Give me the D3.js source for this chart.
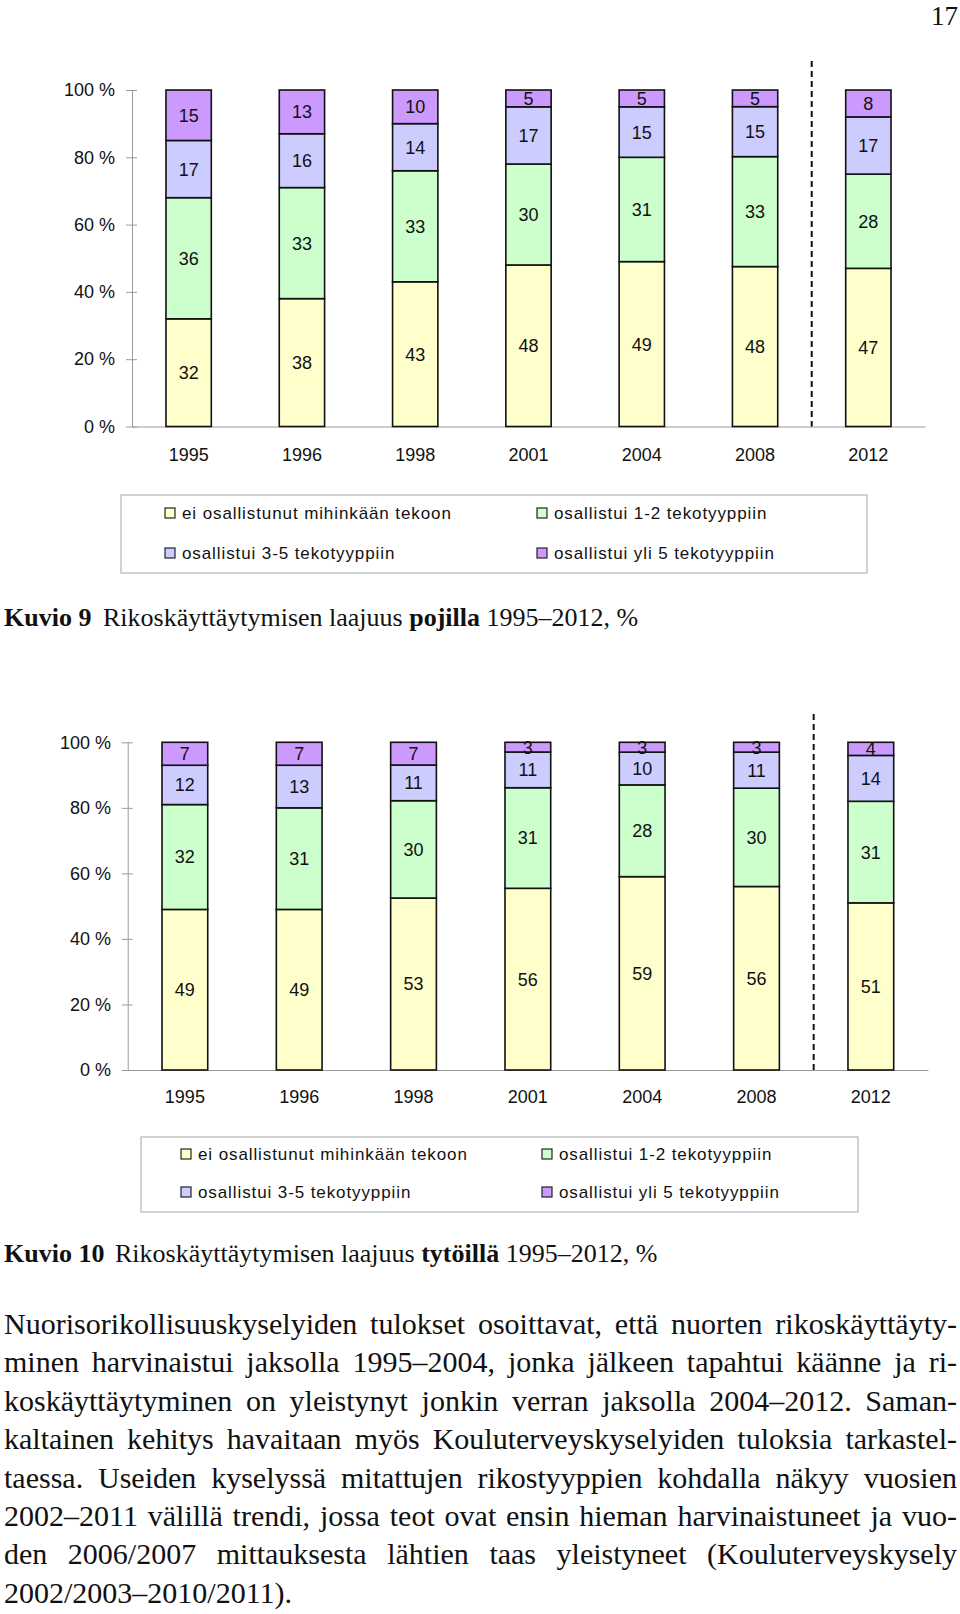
<!DOCTYPE html>
<html>
<head>
<meta charset="utf-8">
<script src="https://cdn.jsdelivr.net/npm/d3@7"></script>
<style>
  body { margin: 0; background: #fff; }
  svg { display: block; }
</style>
</head>
<body>
<div id="page"></div>
<script>
// ---- data ----
const years = ["1995", "1996", "1998", "2001", "2004", "2008", "2012"];
const seriesNames = [
    "ei osallistunut mihinkään tekoon",
    "osallistui 1-2 tekotyyppiin",
    "osallistui 3-5 tekotyyppiin",
    "osallistui yli 5 tekotyyppiin"
];
const seriesColors = ["#ffffcc", "#ccffcc", "#ccccff", "#cc99ff"];

// Kuvio 9, pojat
const boysNone = [32, 38, 43, 48, 49, 48, 47];
const boys1to2 = [36, 33, 33, 30, 31, 33, 28];
const boys3to5 = [17, 16, 14, 17, 15, 15, 17];
const boysOver5 = [15, 13, 10, 5, 5, 5, 8];

// Kuvio 10, tytöt
const girlsNone = [49, 49, 53, 56, 59, 56, 51];
const girls1to2 = [32, 31, 30, 31, 28, 30, 31];
const girls3to5 = [12, 13, 11, 11, 10, 11, 14];
const girlsOver5 = [7, 7, 7, 3, 3, 3, 4];

const bodyLines = [
    "Nuorisorikollisuuskyselyiden tulokset osoittavat, että nuorten rikoskäyttäyty-",
    "minen harvinaistui jaksolla 1995–2004, jonka jälkeen tapahtui käänne ja ri-",
    "koskäyttäytyminen on yleistynyt jonkin verran jaksolla 2004–2012. Saman-",
    "kaltainen kehitys havaitaan myös Kouluterveyskyselyiden tuloksia tarkastel-",
    "taessa. Useiden kyselyssä mitattujen rikostyyppien kohdalla näkyy vuosien",
    "2002–2011 välillä trendi, jossa teot ovat ensin hieman harvinaistuneet ja vuo-",
    "den 2006/2007 mittauksesta lähtien taas yleistyneet (Kouluterveyskysely",
    "2002/2003–2010/2011)."
];

const width = 960, height = 1614;
const sans = "'Liberation Sans', Arial, sans-serif";
const serif = "'Liberation Serif', 'Times New Roman', serif";

const svg = d3.select("#page")
    .append("svg")
    .attr("width", width)
    .attr("height", height);

svg.append("rect").attr("width", width).attr("height", height).attr("fill", "#fff");

// page number
svg.append("text")
    .attr("x", 958).attr("y", 25)
    .attr("text-anchor", "end")
    .attr("font-family", serif)
    .attr("font-size", 27)
    .attr("fill", "#111")
    .text("17");

function drawChart(cfg, series) {
    const rows = years.map((year, i) => {
        const row = { year };
        seriesNames.forEach((name, k) => row[name] = series[k][i]);
        return row;
    });

    const layers = d3.stack()
        .keys(seriesNames)
        .offset(d3.stackOffsetExpand)(rows);

    const x = d3.scaleBand()
        .domain(years)
        .range([cfg.left, cfg.right])
        .paddingInner(0.6)
        .paddingOuter(0.3);

    const y = d3.scaleLinear()
        .domain([0, 1])
        .range([cfg.bottom, cfg.top]);

    const color = d3.scaleOrdinal().domain(seriesNames).range(seriesColors);

    const g = svg.append("g");

    // y axis
    const yAxis = g.append("g")
        .attr("transform", `translate(${cfg.left},0)`)
        .call(d3.axisLeft(y)
            .tickValues([0, 0.2, 0.4, 0.6, 0.8, 1])
            .tickFormat(d => Math.round(d * 100) + " %")
            .tickSizeInner(6)
            .tickSizeOuter(0)
            .tickPadding(cfg.tickPadding));
    yAxis.select(".domain").attr("stroke", "#9a9a9a");
    yAxis.selectAll(".tick line").attr("x1", 5).attr("x2", -6).attr("stroke", "#9a9a9a");
    yAxis.selectAll(".tick text")
        .attr("font-family", sans)
        .attr("font-size", 18)
        .attr("fill", "#111");

    // x axis (baseline + year labels)
    const xAxis = g.append("g")
        .attr("transform", `translate(0,${y(0)})`)
        .call(d3.axisBottom(x).tickSize(0).tickSizeOuter(0).tickPadding(cfg.yearPadding));
    xAxis.select(".domain").attr("stroke", "#9a9a9a");
    xAxis.selectAll(".tick text")
        .attr("font-family", sans)
        .attr("font-size", 18)
        .attr("fill", "#111");

    // bars
    const layer = g.selectAll(".layer")
        .data(layers)
        .join("g")
        .attr("class", "layer")
        .attr("fill", d => color(d.key));

    layer.selectAll("rect")
        .data(d => d)
        .join("rect")
        .attr("x", d => x(d.data.year))
        .attr("y", d => y(d[1]))
        .attr("width", x.bandwidth())
        .attr("height", d => y(d[0]) - y(d[1]))
        .attr("stroke", "#111")
        .attr("stroke-width", 1.6);

    // value labels
    layer.selectAll("text")
        .data((d, k) => d.map((p, i) => ({ p, v: series[k][i] })))
        .join("text")
        .attr("x", d => x(d.p.data.year) + x.bandwidth() / 2)
        .attr("y", d => (y(d.p[0]) + y(d.p[1])) / 2)
        .attr("dy", "0.36em")
        .attr("text-anchor", "middle")
        .attr("font-family", sans)
        .attr("font-size", 18)
        .attr("fill", "#111")
        .text(d => d.v);

    // dashed separator before the last survey
    const sepX = (x("2008") + x.bandwidth() + x("2012")) / 2;
    g.append("line")
        .attr("x1", sepX).attr("x2", sepX)
        .attr("y1", cfg.dashTop).attr("y2", y(0))
        .attr("stroke", "#111")
        .attr("stroke-width", 2)
        .attr("stroke-dasharray", "6,4");

    // legend
    const lg = cfg.legend;
    g.append("rect")
        .attr("x", lg.x).attr("y", lg.y)
        .attr("width", lg.w).attr("height", lg.h)
        .attr("fill", "none")
        .attr("stroke", "#b5b5b5")
        .attr("stroke-width", 1.2);

    const item = g.selectAll(".legend-item")
        .data(seriesNames)
        .join("g")
        .attr("class", "legend-item")
        .attr("transform", (d, i) => `translate(${lg.cols[i % 2]},${lg.rows[Math.floor(i / 2)]})`);

    item.append("rect")
        .attr("x", 0).attr("y", -5)
        .attr("width", 10).attr("height", 10)
        .attr("fill", d => color(d))
        .attr("stroke", "#222")
        .attr("stroke-width", 1.2);

    item.append("text")
        .attr("x", 17)
        .attr("dy", "0.36em")
        .attr("font-family", sans)
        .attr("font-size", 17)
        .attr("letter-spacing", 0.9)
        .attr("fill", "#111")
        .text(d => d);

    // caption
    const cap = g.append("text")
        .attr("x", 4).attr("y", cfg.captionY)
        .attr("font-family", serif)
        .attr("font-size", 26)
        .attr("fill", "#111");
    cap.append("tspan").attr("font-weight", "bold").text(cfg.captionNo);
    cap.append("tspan").attr("x", cfg.captionTextX).text("Rikoskäyttäytymisen laajuus ");
    cap.append("tspan").attr("font-weight", "bold").text(cfg.captionGroup);
    cap.append("tspan").text(" 1995–2012, %");
}

drawChart({
    left: 132, right: 925, top: 90, bottom: 426.5,
    tickPadding: 11, yearPadding: 22, dashTop: 61,
    legend: { x: 121, y: 495, w: 746, h: 78, cols: [165, 537], rows: [513, 553] },
    captionY: 626, captionNo: "Kuvio 9", captionTextX: 103, captionGroup: "pojilla"
}, [boysNone, boys1to2, boys3to5, boysOver5]);

drawChart({
    left: 127.7, right: 928, top: 742.3, bottom: 1070,
    tickPadding: 10.7, yearPadding: 20, dashTop: 714,
    legend: { x: 141, y: 1137, w: 717, h: 75, cols: [181, 542], rows: [1154, 1192] },
    captionY: 1262, captionNo: "Kuvio 10", captionTextX: 115, captionGroup: "tytöillä"
}, [girlsNone, girls1to2, girls3to5, girlsOver5]);

// body text, justified line by line
const textLeft = 4, textRight = 957;
svg.append("g")
    .selectAll("text")
    .data(bodyLines)
    .join("text")
    .attr("x", textLeft)
    .attr("y", (d, i) => 1334 + i * 38.4)
    .attr("font-family", serif)
    .attr("font-size", 30)
    .attr("fill", "#111")
    .text(d => d)
    .each(function (d, i) {
        if (i === bodyLines.length - 1) return;
        const natural = this.getComputedTextLength();
        const gaps = d.split(" ").length - 1;
        d3.select(this).attr("word-spacing", (textRight - textLeft - natural) / gaps);
    });
</script>
</body>
</html>
